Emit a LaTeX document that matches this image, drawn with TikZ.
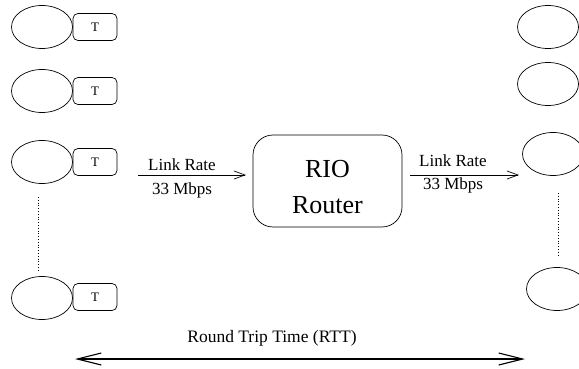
\documentclass[tikz,border=0pt]{standalone}
\usepackage{fontspec}
\setmainfont{Liberation Serif}
\usetikzlibrary{shapes.geometric,arrows.meta}
\begin{document}
\begin{tikzpicture}[x=1pt,y=-1pt,
  host/.style={draw,ellipse,line width=0.7pt,minimum width=61pt,minimum height=43pt,inner sep=0pt},
  tbox/.style={draw,rounded corners=5pt,line width=0.7pt,minimum width=44pt,minimum height=27pt,inner sep=0pt,font=\fontsize{13}{15}\selectfont},
  rbox/.style={draw,rounded corners=20pt,line width=0.7pt,minimum width=149pt,minimum height=92pt,inner sep=0pt},
  link/.style={line width=0.7pt,-{Straight Barb[length=11pt,width=8pt]}},
  lbl/.style={anchor=base,inner sep=0pt,font=\fontsize{17}{19}\selectfont},
  dots/.style={dotted,line width=0.8pt}]
\useasboundingbox (0,0) rectangle (579,369);

% senders with their traffic conditioners
\node[host] (s1) at (42,27) {};
\node[host] (s2) at (42,91) {};
\node[host] (s3) at (42,162) {};
\node[host] (s4) at (42,298) {};
\node[tbox] (t1) at (95,27) {T};
\node[tbox] (t2) at (95,91) {T};
\node[tbox] (t3) at (95,162) {T};
\node[tbox] (t4) at (95,297) {T};
\coordinate (sd1) at (38,197);
\coordinate (sd2) at (38,270);
\draw[dots] (sd1) -- (sd2);

% router
\node[rbox] (router) at (327.5,181) {};
\node[lbl,font=\fontsize{26}{28}\selectfont] (rio) at (327.5,177) {RIO};
\node[lbl,font=\fontsize{26}{28}\selectfont] (rname) at (327.5,213) {Router};

% access link
\coordinate (a1) at (138,175);
\coordinate (a2) at (246,175);
\draw[link] (a1) -- (a2);
\node[lbl] (lr1) at (182,171) {Link Rate};
\node[lbl] (bw1) at (182,194) {33 Mbps};

% bottleneck link
\coordinate (b1) at (410,175);
\coordinate (b2) at (519,175);
\draw[link] (b1) -- (b2);
\node[lbl] (lr2) at (453,166) {Link Rate};
\node[lbl] (bw2) at (453,189) {33 Mbps};

% receivers
\node[host] (d1) at (548,27) {};
\node[host] (d2) at (548,84) {};
\node[host] (d3) at (553,154) {};
\node[host] (d4) at (557,289) {};
\coordinate (dd1) at (558,193);
\coordinate (dd2) at (558,257);
\draw[dots] (dd1) -- (dd2);

% round trip time
\coordinate (r1) at (75,359);
\coordinate (r2) at (525,359);
\draw[line width=1.1pt,{Straight Barb[length=24pt,width=12pt]}-{Straight Barb[length=24pt,width=12pt]}] (r1) -- (r2);
\node[lbl,font=\fontsize{17.5}{19}\selectfont] (rtt) at (272,342) {Round Trip Time (RTT)};
\end{tikzpicture}
\end{document}
